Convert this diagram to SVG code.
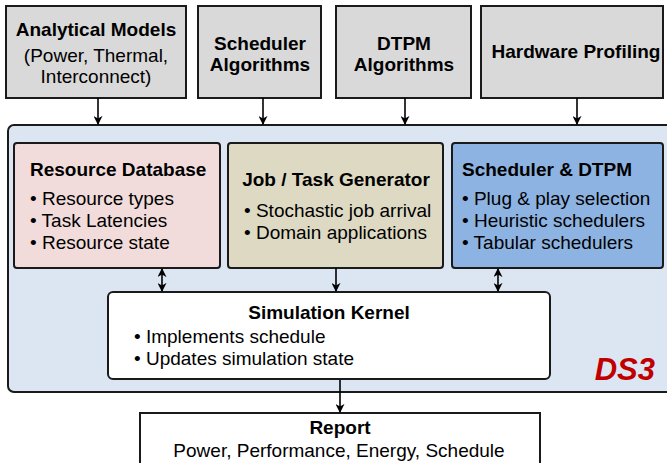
<svg xmlns="http://www.w3.org/2000/svg" width="667" height="463" viewBox="0 0 667 463">
<style>
text{font-family:"Liberation Sans",Arial,sans-serif;font-size:19px;fill:#000}
.b{font-weight:bold}
.c{text-anchor:middle}
.top{fill:#d9d9d9;stroke:#1a1a1a;stroke-width:2}
.box{stroke:#1a1a1a;stroke-width:2}
.ln{stroke:#000;stroke-width:1.6;fill:none}
</style>
<defs>
<marker id="ah" viewBox="0 0 10 10" refX="9" refY="5" markerWidth="9" markerHeight="9" markerUnits="userSpaceOnUse" orient="auto-start-reverse">
<path d="M0,0 L10,5 L0,10 L3,5 z" fill="#000"/>
</marker>
</defs>
<rect id="ds3" x="8" y="125" width="668" height="267" rx="6" fill="#dce6f2" stroke="#1a1a1a" stroke-width="2"/>
<text x="655" y="380" class="b" style="font-size:31px;font-style:italic;fill:#c00000;text-anchor:end">DS3</text>

<g id="analytical">
<rect class="top" x="6" y="6" width="180" height="92"/>
<text x="96" y="36" class="b c">Analytical Models</text>
<text x="96" y="62" class="c">(Power, Thermal,</text>
<text x="96" y="83" class="c">Interconnect)</text>
</g>
<g id="schedalg">
<rect class="top" x="198" y="6" width="123" height="92"/>
<text x="260" y="50" class="b c">Scheduler</text>
<text x="260" y="71" class="b c">Algorithms</text>
</g>
<g id="dtpmalg">
<rect class="top" x="336" y="6" width="135" height="92"/>
<text x="404" y="50" class="b c">DTPM</text>
<text x="404" y="71" class="b c">Algorithms</text>
</g>
<g id="hwprof">
<rect class="top" x="481" y="6" width="182" height="92"/>
<text x="576" y="58" class="b c">Hardware Profiling</text>
</g>

<g id="resdb">
<rect class="box" x="14" y="143" width="206" height="125" rx="3" fill="#f2dcdb"/>
<text x="30" y="176" class="b">Resource Database</text>
<text x="30" y="205">• Resource types</text>
<text x="30" y="227">• Task Latencies</text>
<text x="30" y="249">• Resource state</text>
</g>
<g id="jobgen">
<rect class="box" x="228" y="143" width="215" height="125" rx="3" fill="#ddd9c3"/>
<text x="336" y="186" class="b c">Job / Task Generator</text>
<text x="244" y="217">• Stochastic job arrival</text>
<text x="244" y="239">• Domain applications</text>
</g>
<g id="schedtpm">
<rect class="box" x="452" y="143" width="211" height="125" rx="3" fill="#8db3e2"/>
<text x="462" y="176" class="b">Scheduler &amp; DTPM</text>
<text x="462" y="205">• Plug &amp; play selection</text>
<text x="462" y="227">• Heuristic schedulers</text>
<text x="462" y="249">• Tabular schedulers</text>
</g>
<g id="simkernel">
<rect class="box" x="108" y="292" width="442" height="87" rx="5" fill="#fff"/>
<text x="329" y="319" class="b c">Simulation Kernel</text>
<text x="134" y="343">• Implements schedule</text>
<text x="134" y="365">• Updates simulation state</text>
</g>
<g id="report">
<rect class="box" x="140" y="413" width="400" height="60" fill="#fff"/>
<text x="340" y="434" class="b c">Report</text>
<text x="339" y="457" class="c">Power, Performance, Energy, Schedule</text>
</g>

<g id="connectors">
<line class="ln" x1="98" y1="98" x2="98" y2="124" marker-end="url(#ah)"/>
<line class="ln" x1="263" y1="98" x2="263" y2="124" marker-end="url(#ah)"/>
<line class="ln" x1="405" y1="98" x2="405" y2="124" marker-end="url(#ah)"/>
<line class="ln" x1="577" y1="98" x2="577" y2="124" marker-end="url(#ah)"/>
<line class="ln" x1="162" y1="269" x2="162" y2="291" marker-start="url(#ah)" marker-end="url(#ah)"/>
<line class="ln" x1="336" y1="268" x2="336" y2="291" marker-end="url(#ah)"/>
<line class="ln" x1="498" y1="269" x2="498" y2="291" marker-start="url(#ah)" marker-end="url(#ah)"/>
<line class="ln" x1="340" y1="380" x2="340" y2="412" marker-end="url(#ah)"/>
</g>
</svg>
